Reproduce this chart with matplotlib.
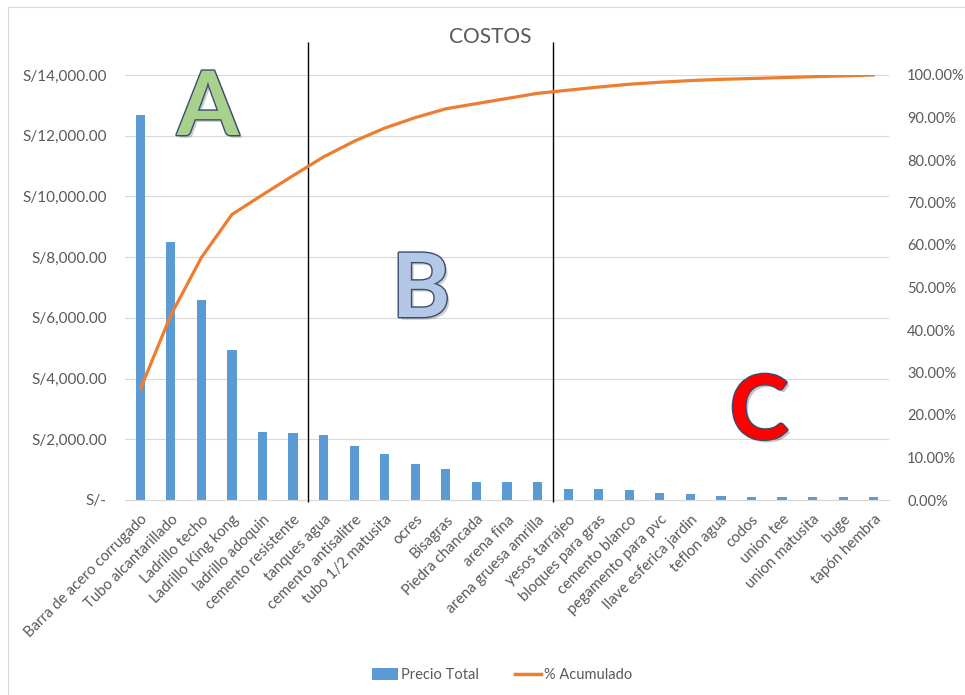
import numpy as np
import matplotlib.pyplot as plt
import matplotlib.patheffects as pe
from matplotlib.lines import Line2D
from matplotlib.patches import Patch
from matplotlib.ticker import FuncFormatter, MultipleLocator

plt.rcParams['font.family'] = ['Lato', 'DejaVu Sans']

materiales = [
    "Barra de acero corrugado", "Tubo alcantarillado", "Ladrillo techo",
    "Ladrillo King kong", "ladrillo adoquin", "cemento resistente",
    "tanques agua", "cemento antisalitre", "tubo 1/2 matusita", "ocres",
    "Bisagras", "Piedra chancada", "arena fina", "arena gruesa amrilla",
    "yesos tarrajeo", "bloques para gras", "cemento blanco",
    "pegamento para pvc", "llave esferica jardin", "teflon agua", "codos",
    "union tee", "union matusita", "buge", "tapón hembra",
]
precio_total = [
    12680, 8510, 6590, 4940, 2250, 2200, 2150, 1790, 1510, 1200,
    1010, 590, 590, 590, 360, 360, 320, 230, 190, 140,
    100, 100, 100, 100, 100,
]
# cortes entre zonas A|B y B|C (posición entre categorías)
cortes = [5.5, 13.5]

precio = np.array(precio_total, dtype=float)
acumulado = np.cumsum(precio) / precio.sum()

gris = "#595959"
azul = "#5B9BD5"
naranja = "#ED7D31"

fig = plt.figure(figsize=(9.65, 6.95), dpi=100)
ax = fig.add_axes([125 / 965, 1 - 500 / 695, 764 / 965, 425 / 695])
ax2 = ax.twinx()

x = np.arange(len(materiales))
ax.bar(x, precio, width=0.3, color=azul, zorder=2)
ax2.plot(x, acumulado, color=naranja, lw=2.3, solid_capstyle="round", zorder=3)

ax.set_xlim(-0.5, len(materiales) - 0.5)
ax.set_ylim(0, 14000)
ax2.set_ylim(0, 1)
ax.yaxis.set_major_locator(MultipleLocator(2000))
ax2.yaxis.set_major_locator(MultipleLocator(0.1))

def soles(v, pos):
    return "S/-" if v == 0 else f"S/{v:,.2f}"

ax.yaxis.set_major_formatter(FuncFormatter(soles))
ax2.yaxis.set_major_formatter(FuncFormatter(lambda v, pos: f"{v * 100:.2f}%"))

ax.grid(axis="y", color="#D9D9D9", lw=0.8, zorder=0)
ax.set_axisbelow(True)
for a in (ax, ax2):
    for s in a.spines.values():
        s.set_visible(False)
ax.spines["bottom"].set_visible(True)
ax.spines["bottom"].set_color("#D9D9D9")
ax.spines["bottom"].set_linewidth(0.8)

ax.set_xticks(x)
ax.set_xticklabels(materiales, rotation=45, ha="right", rotation_mode="anchor",
                   fontsize=10.8, color=gris)
ax.tick_params(axis="x", length=0, pad=9)
ax.tick_params(axis="y", length=0, pad=13, labelsize=11, labelcolor=gris)
ax2.tick_params(axis="y", length=0, pad=13, labelsize=10.5, labelcolor=gris)

# líneas verticales que separan las zonas
for c in cortes:
    ax.vlines(c, -60, 15100, color="black", lw=1.0, clip_on=False, zorder=4)

fig.text(490 / 965, 1 - 37 / 695, "COSTOS", ha="center", va="center",
         fontsize=15, color=gris)

# letras de clasificación ABC
letras = [("A", 208, 109, "#A9D18E"), ("B", 421, 291, "#B4C7E7"), ("C", 759, 413, "#FF0000")]
for letra, px, py, color in letras:
    fig.text(px / 965, 1 - py / 695, letra, ha="center", va="center",
             fontsize=64, fontweight="bold", color=color, zorder=5,
             path_effects=[pe.SimplePatchShadow(offset=(2, -2), alpha=0.25),
                           pe.Stroke(linewidth=2, foreground="#3A4D6E"),
                           pe.Normal()])

handles = [Patch(facecolor=azul, label="Precio Total"),
           Line2D([0], [0], color=naranja, lw=2.5, label="% Acumulado")]
fig.legend(handles=handles, loc="center", bbox_to_anchor=(502 / 965, 1 - 675 / 695),
           ncol=2, frameon=False, fontsize=10.5, labelcolor=gris,
           handlelength=1.8, handleheight=0.8, columnspacing=2.5, handletextpad=0.2)

# borde del área del gráfico
fig.add_artist(Line2D([8 / 965, 8 / 965], [0, 1 - 7 / 695], color="#D9D9D9", lw=0.8))
fig.add_artist(Line2D([8 / 965, 1], [1 - 7 / 695, 1 - 7 / 695], color="#D9D9D9", lw=0.8))

fig.savefig("out.png", dpi=100)
